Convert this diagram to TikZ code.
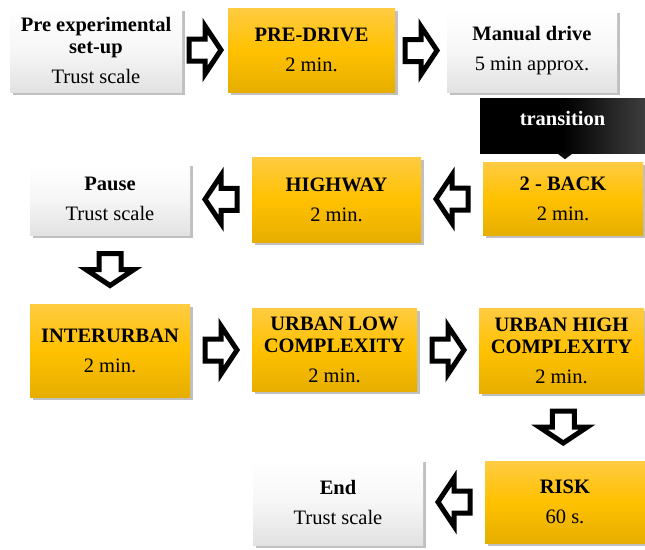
\documentclass[tikz,border=0pt]{standalone}
\usepackage{fontspec}
\setmainfont{Liberation Serif}
\usetikzlibrary{shadows,calc}
\definecolor{orT}{RGB}{255,203,66}
\definecolor{orM}{RGB}{255,193,0}
\definecolor{orB}{RGB}{230,174,0}
\definecolor{wB}{RGB}{226,226,226}
\definecolor{trR}{RGB}{62,62,62}
\tikzset{
  base/.style={inner sep=0pt, align=center, font=\fontsize{20.5}{22}\selectfont,
    drop shadow={shadow xshift=2.5pt, shadow yshift=-3pt, opacity=0.45, fill=black!55}},
  orangebox/.style={base, top color=orT, bottom color=orB, middle color=orM},
  whitebox/.style={base, top color=white, bottom color=wB, middle color=white!70!wB},
  flow/.style={draw=black, fill=white, line width=5pt},
  transbox/.style={inner sep=0pt, align=center, font=\fontsize{20.5}{22}\selectfont\bfseries,
    text=white, left color=black, right color=trR, middle color=black,
    text height=12pt, text depth=12pt},
}
\newcommand\flowarrow[2]{\draw[flow, shift={#1}, rotate=#2]
  (-16,-11) -- (0,-11) -- (0,-24) -- (16,0) -- (0,24) -- (0,11) -- (-16,11) -- cycle;}
\begin{document}
\begin{tikzpicture}[x=1pt,y=-1pt]
\useasboundingbox (0,0) rectangle (645,549);
% row 1
\node[whitebox, minimum width=172pt, minimum height=84pt] (pre) at (96,50)
  {\textbf{Pre experimental}\\\textbf{set-up}\\[8pt]Trust scale};
\node[orangebox, minimum width=167pt, minimum height=84pt] (pd) at (311.5,50)
  {\textbf{PRE-DRIVE}\\[8pt]2 min.};
\node[whitebox, minimum width=170pt, minimum height=82pt] (man) at (532,51)
  {\textbf{Manual drive}\\[8pt]5 min approx.};
% transition
\node[transbox, minimum width=165pt, minimum height=55pt] (trans) at (562.5,125.5) {transition};
\fill[trR!20!black] ($(trans.south)+(-5.5,0)$) -- ++(16,0) -- ++(-8,6) -- cycle;
% row 2
\node[orangebox, minimum width=160pt, minimum height=73pt] (back) at (563,198.5)
  {\textbf{2 - BACK}\\[8pt]2 min.};
\node[orangebox, minimum width=169pt, minimum height=85pt] (hw) at (336.5,199.5)
  {\textbf{HIGHWAY}\\[8pt]2 min.};
\node[whitebox, minimum width=160pt, minimum height=72pt] (pause) at (110,199)
  {\textbf{Pause}\\[8pt]Trust scale};
% row 3
\node[orangebox, minimum width=160pt, minimum height=93pt] (inter) at (110,350.5)
  {\textbf{INTERURBAN}\\[8pt]2 min.};
\node[orangebox, minimum width=165pt, minimum height=83pt] (ulow) at (334.5,349.5)
  {\textbf{URBAN LOW}\\\textbf{COMPLEXITY}\\[8pt]2 min.};
\node[orangebox, minimum width=165pt, minimum height=85pt] (uhigh) at (561.5,350.5)
  {\textbf{URBAN HIGH}\\\textbf{COMPLEXITY}\\[8pt]2 min.};
% row 4
\node[orangebox, minimum width=160pt, minimum height=82pt] (risk) at (565,502)
  {\textbf{RISK}\\[8pt]60 s.};
\node[whitebox, minimum width=170pt, minimum height=86pt] (end) at (338,502)
  {\textbf{End}\\[8pt]Trust scale};
% block arrows
\flowarrow{($(pre.east)!.5!(pd.west)$)}{0}
\flowarrow{($(pd.east)!.5!(man.west)$)}{0}
\flowarrow{($(back.west)!.5!(hw.east)$)}{180}
\flowarrow{($(hw.west)!.5!(pause.east)$)}{180}
\flowarrow{($(pause.south)!.5!(inter.north)$)}{-90}
\flowarrow{($(inter.east)!.5!(ulow.west)$)}{0}
\flowarrow{($(ulow.east)!.5!(uhigh.west)$)}{0}
\flowarrow{($(uhigh.south)!.5!(risk.north)$)}{-90}
\flowarrow{($(risk.west)!.5!(end.east)$)}{180}
\end{tikzpicture}
\end{document}
